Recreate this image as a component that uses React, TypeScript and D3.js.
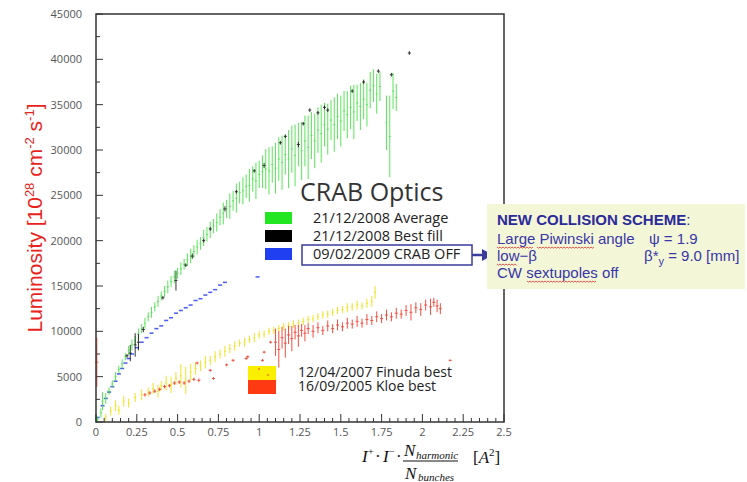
import React from 'react';
import * as d3 from 'd3';

const xTickValues = [0, 0.25, 0.5, 0.75, 1, 1.25, 1.5, 1.75, 2, 2.25, 2.5];
const xTickLabels = ['0', '0.25', '0.5', '0.75', '1', '1.25', '1.5', '1.75', '2', '2.25', '2.5'];
const yTickValues = [0, 5000, 10000, 15000, 20000, 25000, 30000, 35000, 40000, 45000];
const yTickLabels = ['0', '5000', '10000', '15000', '20000', '25000', '30000', '35000', '40000', '45000'];

// [current product, luminosity, error]
const greenAverage: [number, number, number][] = [
  [0.01, 300, 300], [0.03, 1000, 500], [0.04, 2300, 1000], [0.06, 2600, 600], [0.08, 3400, 400],
  [0.10, 4200, 400], [0.12, 5000, 500], [0.14, 5800, 400], [0.16, 6400, 500], [0.18, 7200, 400],
  [0.20, 7900, 500], [0.22, 8500, 600], [0.24, 9000, 500], [0.26, 9700, 600], [0.28, 10300, 500],
  [0.30, 10900, 600], [0.32, 11600, 500], [0.34, 12100, 600], [0.36, 12700, 500], [0.38, 13300, 600],
  [0.40, 13900, 500], [0.42, 14400, 600], [0.44, 14900, 700], [0.46, 15500, 600], [0.48, 16000, 700],
  [0.50, 16400, 600], [0.52, 16900, 700], [0.54, 17400, 600], [0.56, 17900, 700], [0.58, 18300, 800],
  [0.60, 18800, 700], [0.62, 19300, 800], [0.64, 19700, 700], [0.66, 20300, 900], [0.68, 20700, 800],
  [0.70, 21200, 900], [0.72, 21600, 800], [0.74, 22000, 1000], [0.76, 22600, 900], [0.78, 23000, 1200],
  [0.80, 23500, 1000], [0.82, 23800, 1400], [0.84, 24400, 1100], [0.86, 24700, 1600], [0.88, 25300, 1200],
  [0.90, 25500, 1500], [0.92, 26000, 1300], [0.94, 26100, 1800], [0.96, 26800, 1400], [0.98, 26600, 2000],
  [1.00, 27300, 1500], [1.02, 27600, 1800], [1.04, 27900, 2200], [1.06, 27700, 2600], [1.08, 28400, 2000],
  [1.10, 28000, 2800], [1.12, 29000, 2400], [1.14, 28600, 3000], [1.16, 29500, 2200], [1.18, 29000, 3200],
  [1.20, 30100, 2600], [1.22, 29400, 3400], [1.24, 30600, 2400], [1.26, 29900, 3200], [1.28, 31000, 2800],
  [1.30, 30300, 3500], [1.32, 31600, 2600], [1.34, 31000, 3000], [1.36, 32200, 2500], [1.38, 31800, 3200],
  [1.40, 32800, 2400], [1.42, 32300, 2800], [1.44, 33300, 2200], [1.46, 32800, 3000], [1.48, 33700, 2500],
  [1.50, 33200, 2800], [1.52, 34300, 2200], [1.54, 33900, 2600], [1.56, 34700, 2400], [1.58, 34200, 3000],
  [1.60, 35200, 2000], [1.62, 34800, 2600], [1.64, 35600, 2200], [1.66, 35000, 2400], [1.68, 36600, 2000],
  [1.70, 37100, 1800], [1.72, 36200, 2200], [1.74, 37000, 1600], [1.78, 33000, 3000], [1.80, 31500, 4500],
  [1.82, 36500, 2000], [1.84, 35800, 1500],
];

const blackBestFill: [number, number, number][] = [
  [0.19, 7300, 200], [0.21, 7600, 900], [0.24, 8500, 1300], [0.26, 8800, 900], [0.29, 10200, 300],
  [0.41, 13700, 200], [0.49, 15600, 1100], [0.55, 17300, 200], [0.59, 18300, 300], [0.66, 20000, 200],
  [0.70, 21300, 200], [0.79, 23500, 300], [0.86, 25400, 200], [0.97, 27700, 200], [1.03, 28300, 300],
  [1.13, 30800, 200], [1.16, 31500, 200], [1.24, 30600, 300], [1.27, 32900, 200], [1.31, 34400, 200],
  [1.36, 34100, 200], [1.40, 34700, 200], [1.42, 34400, 200], [1.57, 36500, 200], [1.64, 37500, 200],
  [1.73, 38700, 200], [1.81, 38300, 200], [1.92, 40700, 200],
];

const blueCrabOff: [number, number, number][] = [
  [0.01, 500, 0], [0.04, 1800, 0], [0.06, 2600, 0], [0.08, 3300, 0], [0.10, 3900, 0],
  [0.12, 4500, 0], [0.14, 5300, 0], [0.16, 5900, 0], [0.18, 6500, 0], [0.20, 7000, 0],
  [0.22, 7500, 0], [0.25, 8200, 0], [0.28, 8800, 0], [0.31, 9300, 0], [0.34, 9800, 0],
  [0.37, 10300, 0], [0.40, 10600, 0], [0.43, 11200, 0], [0.46, 11500, 0], [0.49, 12000, 0],
  [0.52, 12300, 0], [0.55, 12600, 0], [0.58, 12900, 0], [0.61, 13400, 0], [0.64, 13600, 0],
  [0.67, 14000, 0], [0.70, 14300, 0], [0.73, 14600, 0], [0.76, 15100, 0], [0.79, 15400, 0],
  [0.99, 16000, 0],
];

const yellowFinuda: [number, number, number][] = [
  [0.06, 500, 400], [0.09, 1200, 500], [0.12, 1800, 600], [0.14, 1300, 500], [0.17, 2300, 600],
  [0.20, 2100, 500], [0.24, 2700, 500], [0.28, 3000, 600], [0.32, 3300, 500], [0.35, 3700, 600],
  [0.38, 3400, 700], [0.40, 4000, 500], [0.43, 4300, 800], [0.46, 4100, 900], [0.49, 4800, 700],
  [0.52, 5100, 1300], [0.55, 4600, 1500], [0.58, 5500, 900], [0.61, 5900, 700], [0.64, 6200, 600],
  [0.67, 6600, 700], [0.70, 6800, 500], [0.73, 7200, 600], [0.76, 7500, 500], [0.79, 7800, 600],
  [0.82, 8100, 500], [0.85, 8400, 500], [0.88, 8700, 400], [0.91, 8800, 500], [0.94, 9100, 400],
  [0.97, 9300, 500], [1.00, 9600, 400], [1.03, 9700, 400], [1.06, 10000, 400], [1.09, 10100, 400],
  [1.12, 10300, 400], [1.15, 10500, 400], [1.18, 10600, 400], [1.21, 10800, 400], [1.24, 10900, 400],
  [1.27, 11100, 400], [1.30, 11300, 400], [1.33, 11400, 400], [1.36, 11600, 400], [1.39, 11800, 400],
  [1.42, 11900, 400], [1.45, 12100, 400], [1.48, 12300, 400], [1.51, 12400, 400], [1.54, 12600, 500],
  [1.57, 12700, 400], [1.60, 12900, 500], [1.63, 12800, 400], [1.66, 13100, 500], [1.69, 13300, 600],
  [1.71, 14300, 700],
];

const redKloe: [number, number, number][] = [
  [0.005, 6600, 2700], [0.30, 3000, 200], [0.33, 3200, 200], [0.36, 3400, 200], [0.39, 3600, 200],
  [0.42, 3900, 200], [0.45, 4000, 200], [0.48, 4300, 200], [0.51, 4400, 200], [0.54, 4300, 200],
  [0.57, 4500, 200], [0.60, 4700, 200], [0.63, 4600, 200], [0.62, 6500, 150], [0.70, 5700, 150],
  [0.72, 4800, 150], [0.80, 6300, 150], [0.84, 6800, 150], [0.92, 7000, 150], [0.93, 7200, 150],
  [1.02, 6800, 150], [1.03, 7700, 150], [1.07, 8800, 150], [1.10, 8800, 1500], [1.12, 8000, 2000],
  [1.14, 9300, 1200], [1.16, 8700, 1600], [1.18, 9600, 1000], [1.20, 9200, 1400], [1.22, 9900, 800],
  [1.24, 9500, 1200], [1.26, 10100, 700], [1.28, 9800, 900], [1.30, 10300, 600], [1.33, 10000, 700],
  [1.36, 10400, 600], [1.39, 10100, 500], [1.42, 10600, 600], [1.45, 10300, 500], [1.48, 10700, 600],
  [1.51, 10500, 500], [1.54, 10900, 600], [1.57, 10800, 500], [1.60, 11100, 600], [1.63, 10900, 500],
  [1.66, 11300, 600], [1.69, 11200, 500], [1.72, 11600, 600], [1.75, 11400, 500], [1.78, 11800, 600],
  [1.81, 11600, 500], [1.84, 12000, 600], [1.87, 11900, 500], [1.90, 12300, 600], [1.93, 12100, 900],
  [1.96, 12600, 600], [1.99, 12400, 700], [2.02, 12900, 600], [2.05, 12700, 900], [2.07, 13200, 500],
  [2.09, 12800, 700], [2.11, 12500, 600], [2.17, 6800, 100],
];

const legendTop = ['21/12/2008 Average', '21/12/2008 Best fill', '09/02/2009 CRAB OFF'];
const legendTopColors = ['#22e622', '#000000', '#1f3ff0'];
const legendBottom = ['12/04/2007 Finuda best', '16/09/2005 Kloe best'];
const legendBottomColors = ['#fbef00', '#ff3a12'];
const noteLines = ['Large Piwinski angle', 'low\u2212\u03b2', 'CW sextupoles off'];

const x = d3.scaleLinear().domain([0, 2.5]).range([96, 504]);
const y = d3.scaleLinear().domain([0, 45000]).range([422, 14]);

function Series({ data, color, w = 3, opacity = 0.85 }: { data: [number, number, number][]; color: string; w?: number; opacity?: number }) {
  return (
    <g stroke={color} strokeWidth={1} opacity={opacity}>
      {data.map(([a, b, e], i) => (
        <g key={i}>
          {e > 0 && <line x1={x(a)} x2={x(a)} y1={y(Math.max(0, b - e))} y2={y(b + e)} />}
          <line x1={x(a) - w / 2} x2={x(a) + w / 2} y1={y(b)} y2={y(b)} strokeWidth={e > 0 ? 1 : 1.5} />
        </g>
      ))}
    </g>
  );
}

function Squiggle({ x0, x1, yy }: { x0: number; x1: number; yy: number }) {
  const pts: string[] = [];
  let k = 0;
  for (let xx = x0; xx <= x1; xx += 1.5, k++) pts.push(`${xx},${yy + (k % 2 ? 1.2 : 0)}`);
  return <polyline points={pts.join(' ')} fill="none" stroke="#e03030" strokeWidth={0.8} />;
}

export default function App() {
  const minorX = d3.range(0, 2.5001, 0.05);
  const minorY = d3.range(0, 45001, 2500);
  const tickFont = "'Open Sans', sans-serif";
  return (
    <svg width={747} height={482} style={{ position: 'absolute', left: 0, top: 0, background: '#fff' }}>
      {/* axes ticks */}
      <g stroke="#333" strokeWidth={1}>
        {minorX.map((v, i) => {
          const major = Math.abs(v / 0.25 - Math.round(v / 0.25)) < 1e-6;
          return <line key={i} x1={x(v)} x2={x(v)} y1={422} y2={422 - (major ? 8 : 4)} />;
        })}
        {minorY.map((v, i) => {
          const major = v % 5000 === 0;
          return <line key={i} x1={96} x2={96 + (major ? 7 : 4)} y1={y(v)} y2={y(v)} />;
        })}
      </g>
      <g fontFamily={tickFont} fontSize={11} fill="#555">
        {xTickValues.map((v, i) => (
          <text key={i} x={x(v)} y={436} textAnchor="middle">{xTickLabels[i]}</text>
        ))}
        {yTickValues.map((v, i) => (
          <text key={i} x={82} y={y(v) + 4} textAnchor="end">{yTickLabels[i]}</text>
        ))}
      </g>

      {/* data */}
      <Series data={yellowFinuda} color="#eee000" w={2} />
      <Series data={redKloe} color="#ee3322" w={3} />
      <Series data={blueCrabOff} color="#2a3ff0" w={4} />
      <Series data={greenAverage} color="#3ee23e" w={2} />
      <Series data={blackBestFill} color="#111" w={3} />

      {/* frame */}
      <rect x={96} y={14} width={408} height={408} fill="none" stroke="#333" strokeWidth={1.5} />

      {/* Y axis label */}
      <text transform="translate(42,218) rotate(-90)" textAnchor="middle" fontFamily="'Liberation Sans', Arial, sans-serif" fontSize={21} fill="#e8231c">
        Luminosity [10<tspan fontSize={13} dy={-8}>28</tspan><tspan dy={8}> cm</tspan><tspan fontSize={13} dy={-8}>-2</tspan><tspan dy={8}> s</tspan><tspan fontSize={13} dy={-8}>-1</tspan><tspan dy={8}>]</tspan>
      </text>

      {/* X axis label */}
      <g fontFamily="'Liberation Serif', 'Times New Roman', serif" fill="#111">
        <text x={362} y={462} fontSize={17} fontStyle="italic">I</text>
        <text x={368} y={455} fontSize={10}>+</text>
        <text x={375} y={462} fontSize={17}>·</text>
        <text x={383} y={462} fontSize={17} fontStyle="italic">I</text>
        <text x={389} y={455} fontSize={10}>−</text>
        <text x={396} y={462} fontSize={17}>·</text>
        <text x={404} y={456} fontSize={17} fontStyle="italic">N</text>
        <text x={416} y={459} fontSize={11} fontStyle="italic">harmonic</text>
        <line x1={403} x2={458} y1={461} y2={461} stroke="#111" strokeWidth={1} />
        <text x={405} y={479} fontSize={17} fontStyle="italic">N</text>
        <text x={418} y={481} fontSize={11} fontStyle="italic">bunches</text>
        <text x={473} y={463} fontSize={17}>[<tspan fontStyle="italic">A</tspan><tspan fontSize={11} dy={-7}>2</tspan><tspan dy={7}>]</tspan></text>
      </g>

      {/* Legend: CRAB Optics */}
      <g fontFamily="'Open Sans', sans-serif">
        <text x={300} y={201} fontSize={25} fill="#333">CRAB Optics</text>
        {legendTop.map((t, i) => (
          <g key={i}>
            <rect x={265} y={212 + i * 18} width={27} height={12} fill={legendTopColors[i]} />
            <text x={313} y={223 + i * 18} fontSize={14.5} fill="#222">{t}</text>
          </g>
        ))}
        <rect x={302} y={245} width={170} height={20} fill="none" stroke="#3b3b9c" strokeWidth={1.5} />
        <line x1={472} x2={484} y1={255} y2={255} stroke="#3b3b9c" strokeWidth={2.5} />
        <path d="M482,249 L493,255 L482,261 Z" fill="#3b3b9c" />

        {legendBottom.map((t, i) => (
          <g key={i}>
            <rect x={248} y={366 + i * 14} width={28} height={14} fill={legendBottomColors[i]} />
            <text x={298} y={377 + i * 14} fontSize={14} fill="#222">{t}</text>
          </g>
        ))}
        <circle cx={259} cy={369} r={0.8} fill="#e33" />
        <circle cx={268} cy={375} r={0.8} fill="#e33" />
      </g>

      {/* Annotation box */}
      <rect x={487} y={204} width={258} height={85} fill="#f4f6d8" />
      <g fontFamily="'Liberation Sans', Arial, sans-serif" fontSize={15} fill="#3737a8">
        <text x={497} y={225} fontWeight="bold" fill="#2a2a9a">NEW COLLISION SCHEME<tspan fontWeight="normal">:</tspan></text>
        <text x={497} y={244}>{noteLines[0]}</text>
        <text x={649} y={244}>ψ = 1.9</text>
        <text x={497} y={261}>{noteLines[1]}</text>
        <text x={644} y={261}>β*<tspan fontSize={11} dy={4}>y</tspan><tspan dy={-4}> = 9.0 [mm]</tspan></text>
        <text x={497} y={278}>{noteLines[2]}</text>
      </g>
      <Squiggle x0={497} x1={534} yy={247} />
      <Squiggle x0={537} x1={595} yy={247} />
      <Squiggle x0={497} x1={517} yy={264} />
      <Squiggle x0={527} x1={597} yy={281} />
    </svg>
  );
}
